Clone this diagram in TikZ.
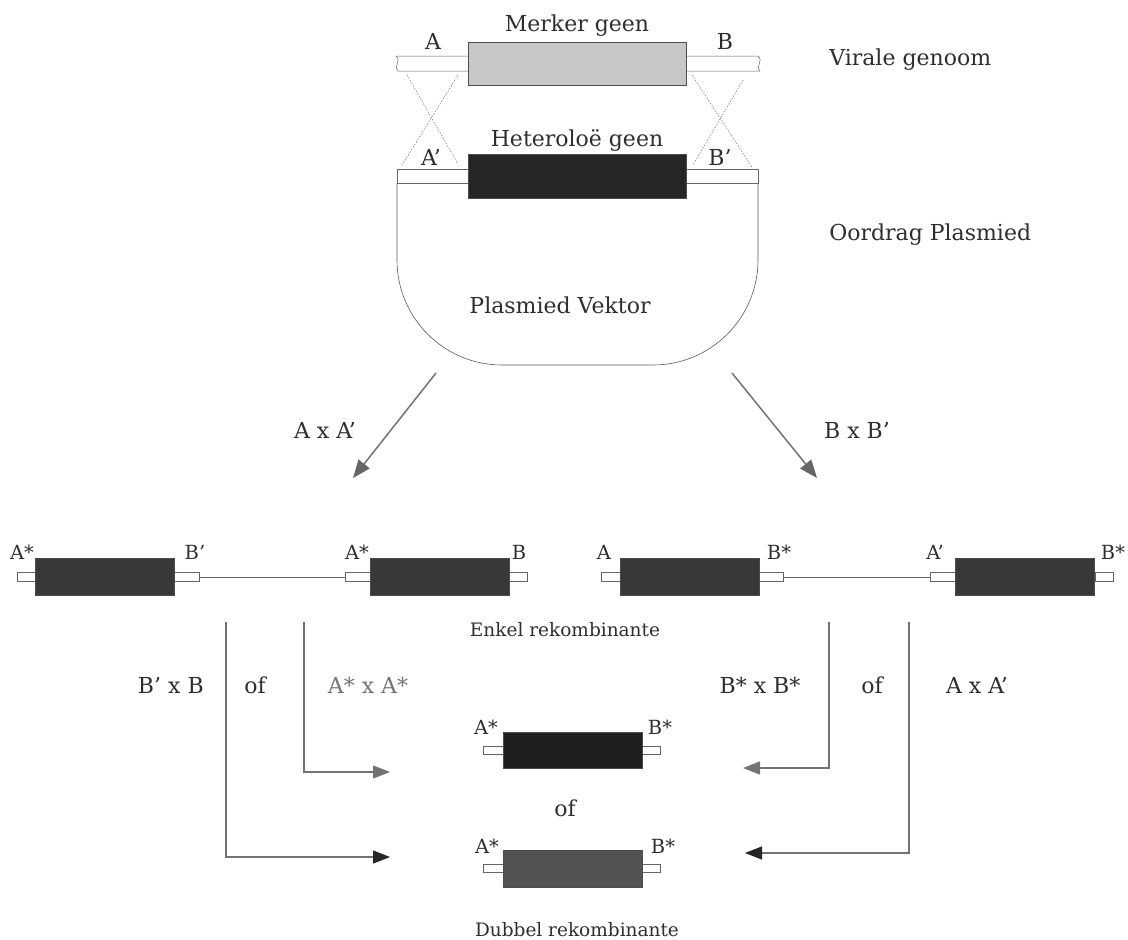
\documentclass[tikz,border=0pt]{standalone}
\usepackage{fontspec}
\setmainfont{DejaVu Serif}
\usetikzlibrary{arrows.meta}
\definecolor{inkgray}{gray}{0.18}
\begin{document}
\begin{tikzpicture}[x=1pt,y=-1pt,line width=0.6pt,
  every node/.style={font=\fontsize{22}{26}\selectfont,text=inkgray,inner sep=1pt},
  tag/.style={font=\fontsize{19.5}{23}\selectfont},
  small/.style={font=\fontsize{18.5}{22}\selectfont},
  gene/.style={draw=black!70,line width=0.5pt,minimum width=139pt,minimum height=37pt,inner sep=0pt},
  tube/.style={draw=black!60,fill=white,line width=0.5pt},
  fine/.style={draw=black!60,line width=0.4pt},
  arr/.style={draw=black!55,line width=1.2pt,-{Triangle[length=17pt,width=13pt,color=black!85]}},
  arrlight/.style={draw=black!55,line width=1.2pt,-{Triangle[length=17pt,width=13pt,color=black!55]}}]
\path[use as bounding box] (0,0) rectangle (1128,940);
\coordinate (Xa1) at (407,75);
\coordinate (Xa2) at (458,164);
\coordinate (Xa3) at (458,75);
\coordinate (Xa4) at (402,165);
\coordinate (Xb1) at (692,75);
\coordinate (Xb2) at (752,167);
\coordinate (Xb3) at (743,80);
\coordinate (Xb4) at (693,165);
\coordinate (aL0) at (436,373);
\coordinate (aL1) at (353,478);
\coordinate (aR0) at (732,373);
\coordinate (aR1) at (817,478);
\coordinate (l1) at (226,622);
\coordinate (l1e) at (390,857);
\coordinate (l2) at (304,622);
\coordinate (l2e) at (390,772);
\coordinate (r1) at (829,622);
\coordinate (r1e) at (743,768);
\coordinate (r2) at (909,622);
\coordinate (r2e) at (745,853);
\draw[tube] (396,56) -- (758,56) .. controls (764,61) and (755,66) .. (760,71) -- (398,71) .. controls (393,66) and (402,61) .. (396,56) -- cycle;
\node[gene,minimum width=218pt,minimum height=43pt,fill=black!22] (merker) at (577,63.5) {};
\draw[draw=black!65,rounded corners=105pt] (397,183) -- (397,365) -- (758,365) -- (758,183);
\draw[tube] (397,169) rectangle (758,183);
\node[gene,minimum width=218pt,minimum height=44pt,fill=black!85] (hetero) at (577,176) {};
\begin{scope}[draw=black!55,line width=0.5pt,dash pattern=on 1.5pt off 1.5pt]
\draw (Xa1) -- (Xa2);
\draw (Xa3) -- (Xa4);
\draw (Xb1) -- (Xb2);
\draw (Xb3) -- (Xb4);
\end{scope}
\draw[arrlight,line width=1.5pt,-{Triangle[length=18pt,width=14pt,color=black!60]}] (aL0) -- (aL1);
\draw[arrlight,line width=1.5pt,-{Triangle[length=18pt,width=14pt,color=black!60]}] (aR0) -- (aR1);
\draw[tube] (17,572) rectangle (35,581);
\draw[tube] (174,572) rectangle (199,581);
\draw[fine] (199,577) -- (345,577);
\draw[tube] (345,572) rectangle (370,581);
\draw[tube] (509,572) rectangle (527,581);
\node[gene,fill=black!78] (enkA1) at (104.5,576.5) {};
\node[gene,fill=black!78] (enkA2) at (439.5,576.5) {};
\draw[tube] (601,572) rectangle (620,581);
\draw[tube] (759,572) rectangle (783,581);
\draw[fine] (783,577) -- (930,577);
\draw[tube] (930,572) rectangle (955,581);
\draw[tube] (1095,572) rectangle (1113,581);
\node[gene,fill=black!78] (enkB1) at (689.5,576.5) {};
\node[gene,fill=black!78] (enkB2) at (1025,576.5) {};
\draw[tube] (483,746) rectangle (503,754);
\draw[tube] (642,746) rectangle (660,754);
\node[gene,minimum height=36pt,fill=black!88] (dblA) at (572.5,750) {};
\draw[tube] (483,864) rectangle (503,872);
\draw[tube] (642,864) rectangle (660,872);
\node[gene,fill=black!68] (dblB) at (572.5,868.5) {};
\draw[arr] (l1) |- (l1e);
\draw[arrlight] (l2) |- (l2e);
\draw[arrlight] (r1) |- (r1e);
\draw[arr] (r2) |- (r2e);
\node (merkerlbl) at (577,26) {Merker geen};
\node (lblA) at (433,41) {A};
\node (lblB) at (725,41) {B};
\node (heterolbl) at (577,141) {Heteroloë geen};
\node (lblAp) at (431,157) {A'};
\node (lblBp) at (720,157) {B'};
\node[anchor=west] (viraal) at (828,60) {Virale genoom};
\node[anchor=west] (oordrag) at (828,235) {Oordrag Plasmied};
\node (vektor) at (560,305) {Plasmied Vektor};
\node (xAA) at (325,430) {A x A'};
\node (xBB) at (857,430) {B x B'};
\node[tag] (t1) at (22,552) {A*};
\node[tag] (t2) at (195,552) {B'};
\node[tag] (t3) at (357,552) {A*};
\node[tag] (t4) at (519,552) {B};
\node[tag] (t5) at (604,552) {A};
\node[tag] (t6) at (779,552) {B*};
\node[tag] (t7) at (935,552) {A'};
\node[tag] (t8) at (1113,552) {B*};
\node[small] (enkel) at (565,630) {Enkel rekombinante};
\node[anchor=east] (xBpB) at (205,685) {B' x B};
\node (ofL) at (255,685) {of};
\node[text=black!55] (xAsAs) at (368,685) {A* x A*};
\node (xBsBs) at (760,685) {B* x B*};
\node (ofR) at (872,685) {of};
\node (xAAp) at (977,685) {A x A'};
\node[tag] (t9) at (486,727) {A*};
\node[tag] (t10) at (660,727) {B*};
\node (ofM) at (565,808) {of};
\node[tag] (t11) at (487,846) {A*};
\node[tag] (t12) at (663,846) {B*};
\node[small] (dubbel) at (577,930) {Dubbel rekombinante};
\end{tikzpicture}
\end{document}
